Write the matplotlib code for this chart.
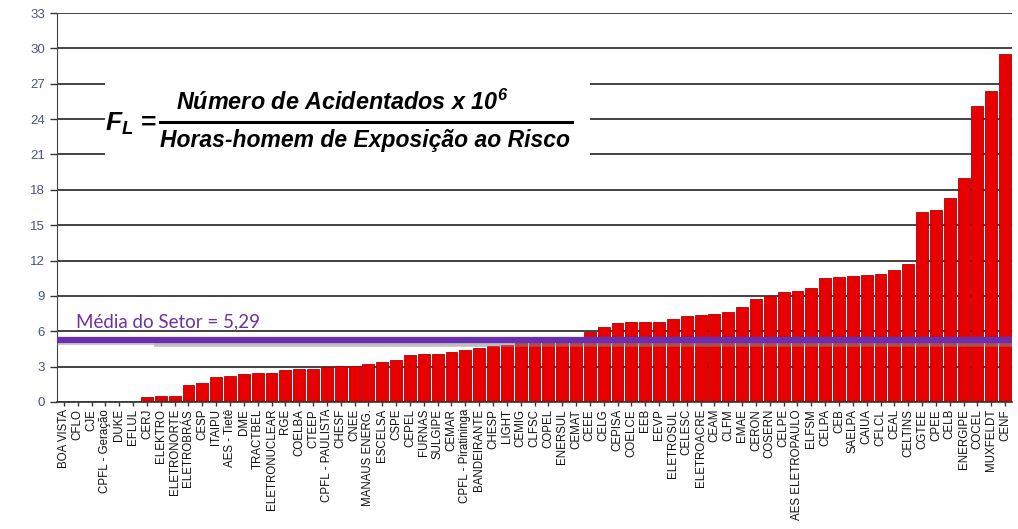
import numpy as np
import matplotlib
matplotlib.use("Agg")
import matplotlib.pyplot as plt
from matplotlib.patches import Rectangle
from matplotlib.lines import Line2D

plt.rcParams["font.family"] = ["Liberation Sans", "DejaVu Sans"]
plt.rcParams["mathtext.fontset"] = "custom"
plt.rcParams["mathtext.it"] = "Liberation Sans:bold:italic"
plt.rcParams["mathtext.rm"] = "Liberation Sans:bold:italic"

empresas = [
    "BOA VISTA", "CFLO", "CJE", "CPFL - Geração", "DUKE", "EFLUL", "CERJ",
    "ELEKTRO", "ELETRONORTE", "ELETROBRÁS", "CESP", "ITAIPU", "AES - Tietê",
    "DME", "TRACTBEL", "ELETRONUCLEAR", "RGE", "COELBA", "CTEEP",
    "CPFL - PAULISTA", "CHESF", "CNEE", "MANAUS ENERG.", "ESCELSA", "CSPE",
    "CEPEL", "FURNAS", "SULGIPE", "CEMAR", "CPFL - Piratininga",
    "BANDEIRANTE", "CHESP", "LIGHT", "CEMIG", "CLFSC", "COPEL", "ENERSUL",
    "CEMAT", "CEEE", "CELG", "CEPISA", "COELCE", "EEB", "EEVP", "ELETROSUL",
    "CELESC", "ELETROACRE", "CEAM", "CLFM", "EMAE", "CERON", "COSERN",
    "CELPE", "AES ELETROPAULO", "ELFSM", "CELPA", "CEB", "SAELPA", "CAIUA",
    "CFLCL", "CEAL", "CELTINS", "CGTEE", "CPEE", "CELB", "ENERGIPE", "COCEL",
    "MUXFELDT", "CENF",
]
taxa_fl = [
    0.0, 0.0, 0.0, 0.0, 0.0, 0.0, 0.42,
    0.52, 0.52, 1.46, 1.57, 2.13, 2.24,
    2.35, 2.46, 2.47, 2.69, 2.80, 2.80,
    2.97, 3.08, 3.09, 3.25, 3.42, 3.53,
    3.98, 4.09, 4.10, 4.26, 4.37,
    4.60, 4.71, 4.82, 5.10, 5.20, 5.30, 5.40,
    5.50, 5.95, 6.36, 6.70, 6.78, 6.78, 6.79, 7.06,
    7.29, 7.34, 7.48, 7.62, 8.04, 8.75, 9.03,
    9.30, 9.42, 9.67, 10.48, 10.60, 10.70, 10.80,
    10.82, 11.18, 11.71, 16.08, 16.30, 17.29, 19.0, 25.1,
    26.4, 29.5,
]
media_setor = 5.29
y_ticks = list(range(0, 34, 3))

W, H = 1018, 529
fig = plt.figure(figsize=(W / 100, H / 100), dpi=100, facecolor="white")
ax = fig.add_axes([57 / W, 1 - 402 / H, (1012 - 57) / W, (402 - 13) / H])

x = np.arange(len(empresas))
ax.bar(x, taxa_fl, width=0.86, color="#e80000", edgecolor="#b00000",
       linewidth=0.6, zorder=2)

ax.set_xlim(-0.5, len(empresas) - 0.5)
ax.set_ylim(0, 33)
ax.set_yticks(y_ticks)
ax.set_xticks(x)
ax.set_xticklabels(empresas, rotation=90, fontsize=8.3, color="#111111")
ax.tick_params(axis="y", labelsize=9.5, labelcolor="#4a5580", color="#333333",
               length=5, width=1)
ax.tick_params(axis="x", length=3, width=1, color="#333333", pad=2)

ax.set_axisbelow(True)
ax.yaxis.grid(True, color="#222222", linewidth=1.2)
for s in ["top", "right"]:
    ax.spines[s].set_visible(False)
ax.spines["left"].set_color("#444444")
ax.spines["bottom"].set_color("#333333")
ax.spines["bottom"].set_linewidth(1.2)


def ax_px(xp, yp):
    # pixel position in the picture -> axes fraction
    return ((xp - 57) / (1012 - 57), (402 - yp) / (402 - 13))


def fig_px(xp, yp):
    return (xp / W, 1 - yp / H)


# white panel behind the formula, cutting the grid lines
x0, y0 = ax_px(105, 162)
x1, y1 = ax_px(590, 70)
ax.add_patch(Rectangle((x0, y0), x1 - x0, y1 - y0, transform=ax.transAxes,
                       facecolor="white", edgecolor="none", zorder=1))

# sector mean line with shadow
ax.plot([6.5, 68.5], [media_setor - 0.4, media_setor - 0.4],
        color="#8a8a8a", linewidth=4, alpha=0.55, zorder=3,
        solid_capstyle="butt")
ax.plot([-0.5, 6.5], [media_setor - 0.3, media_setor - 0.3],
        color="#8a8a8a", linewidth=3, alpha=0.45, zorder=3,
        solid_capstyle="butt")
ax.axhline(media_setor, color="#6a2fb0", linewidth=4.5, zorder=4)
ax.text(0.9, media_setor + 1.0, "Média do Setor = 5,29", fontsize=13.5,
        color="#7030a0", family=["Lato", "DejaVu Sans"], zorder=5)

# formula
ftxt = dict(fontweight="bold", fontstyle="italic", color="black",
            transform=fig.transFigure, va="center")
fig.text(*fig_px(176, 102), r"Número de Acidentados x 10$^{6}$",
         fontsize=16.8, ha="left", **ftxt)
fig.text(*fig_px(365, 140), "Horas-homem de Exposição ao Risco",
         fontsize=16.5, ha="center", **ftxt)
fig.text(*fig_px(131, 124), r"$F_{L}$ =", fontsize=19, ha="center",
         color="black", transform=fig.transFigure, va="center",
         fontweight="bold")
fig.add_artist(Line2D([160 / W, 572 / W], [1 - 122 / H, 1 - 122 / H],
                      color="black", linewidth=2.2, transform=fig.transFigure))

fig.savefig("out.png", dpi=100, facecolor="white")
